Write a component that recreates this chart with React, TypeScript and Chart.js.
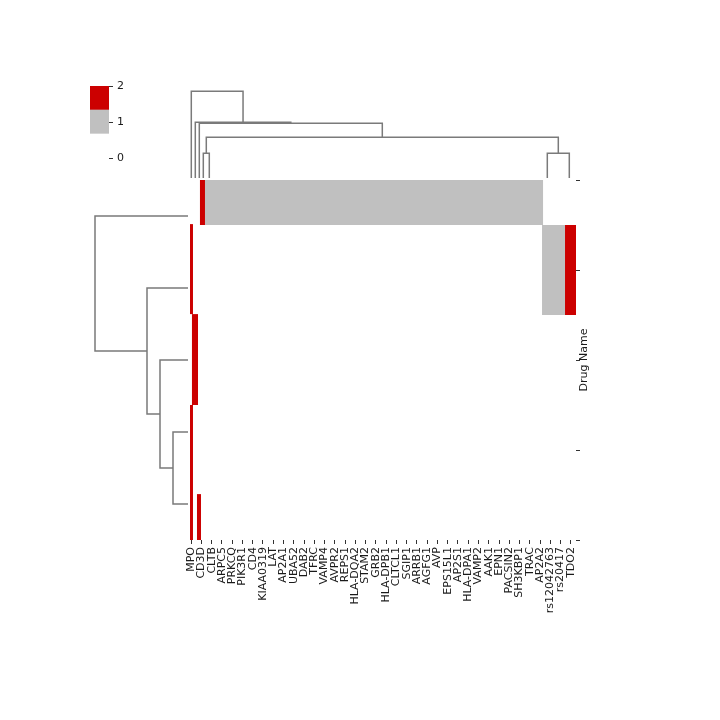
import React, { useEffect, useRef } from 'react';
import { Chart, registerables } from 'chart.js';

Chart.register(...registerables);
Chart.defaults.font.family = "'DejaVu Sans', sans-serif";

// ---- Heatmap axes ----
const columnLabels = [
  'MPO', 'CD3D', 'CLTB', 'ARPC5', 'PRKCQ', 'PIK3R1', 'CD4', 'KIAA0319', 'LAT', 'AP2A1',
  'UBA52', 'DAB2', 'TFRC', 'VAMP4', 'AVPR2', 'REPS1', 'HLA-DQA2', 'STAM2', 'GRB2', 'HLA-DPB1',
  'CLTCL1', 'SGIP1', 'ARRB1', 'AGFG1', 'AVP', 'EPS15L1', 'AP2S1', 'HLA-DPA1', 'VAMP2', 'AAK1',
  'EPN1', 'PACSIN2', 'SH3KBP1', 'TRAC', 'AP2A2', 'rs12042763', 'rs20417', 'TDO2',
];
const rowCount = 8;
const rowTicks = [0, 2, 4, 6, 8];
const rowTickLabels = ['', '', '', '', ''];
const rowAxisTitle = 'Drug Name';

// ---- Heatmap cells (column units / row units, value 0..2) ----
const cellColStart = [1.36, 1.85, 0.39, 34.69, 36.93, 0.58, 0.39, 1.07];
const cellColEnd = [1.85, 34.79, 0.68, 36.93, 38.0, 1.17, 0.68, 1.46];
const cellRowStart = [0, 0, 0.98, 1, 1, 2.98, 5, 6.98];
const cellRowEnd = [1, 1, 2.98, 3, 3, 5, 8, 8];
const cellValue = [2, 1, 2, 1, 2, 2, 2, 2];

// ---- Colour scale ----
const paletteColors = ['#ffffff', '#c0c0c0', '#cc0000'];
const colorBounds = [0, 2 / 3, 4 / 3, 2];
const colorTicks = [0, 1, 2];

// ---- Column dendrogram (scipy-style icoord / dcoord) ----
const colLinkX = [
  [1.686, 1.686, 2.27, 2.27],
  [35.204, 35.204, 37.348, 37.348],
  [1.978, 1.978, 36.276, 36.276],
  [1.296, 1.296, 19.127, 19.127],
  [0.906, 0.906, 10.21, 10.21],
  [0.516, 0.516, 5.558, 5.558],
];
const colLinkH = [
  [0, 24.7, 24.7, 0],
  [0, 24.7, 24.7, 0],
  [24.7, 40.7, 40.7, 24.7],
  [0, 54.7, 54.7, 40.7],
  [0, 55.7, 55.7, 54.7],
  [0, 86.7, 86.7, 55.7],
];
const colDendroMax = 95;

// ---- Row dendrogram ----
const rowLinkY = [
  [5.6, 5.6, 7.2, 7.2],
  [4.0, 4.0, 6.4, 6.4],
  [2.4, 2.4, 5.2, 5.2],
  [0.8, 0.8, 3.8, 3.8],
];
const rowLinkH = [
  [0, 15, 15, 0],
  [0, 28, 28, 15],
  [0, 41, 41, 28],
  [0, 93, 93, 41],
];
const rowDendroMax = 100;

const TEXT = '#1a1a1a';
const TICK = '#333333';
const DENDRO = '#7a7a7a';

const heatmapPlugin = {
  id: 'heatmapCells',
  beforeDatasetsDraw(chart: any) {
    const { ctx, chartArea, scales } = chart;
    ctx.save();
    ctx.beginPath();
    ctx.rect(chartArea.left, chartArea.top, chartArea.right - chartArea.left, chartArea.bottom - chartArea.top);
    ctx.clip();
    for (let i = 0; i < cellValue.length; i++) {
      const x0 = scales.x.getPixelForValue(cellColStart[i]);
      const x1 = scales.x.getPixelForValue(cellColEnd[i]);
      const y0 = scales.y.getPixelForValue(cellRowStart[i]);
      const y1 = scales.y.getPixelForValue(cellRowEnd[i]);
      let idx = 0;
      for (let b = 0; b < paletteColors.length; b++) {
        if (cellValue[i] >= colorBounds[b]) idx = b;
      }
      ctx.fillStyle = paletteColors[idx];
      ctx.fillRect(Math.min(x0, x1), Math.min(y0, y1), Math.abs(x1 - x0), Math.abs(y1 - y0));
    }
    ctx.restore();
  },
};

const rowTitlePlugin = {
  id: 'rowTitle',
  afterDraw(chart: any) {
    const { ctx, chartArea } = chart;
    ctx.save();
    ctx.translate(chartArea.right + 8, (chartArea.top + chartArea.bottom) / 2);
    ctx.rotate(-Math.PI / 2);
    ctx.textAlign = 'center';
    ctx.textBaseline = 'middle';
    ctx.fillStyle = TEXT;
    ctx.font = "11px 'DejaVu Sans', sans-serif";
    ctx.fillText(rowAxisTitle, 0, 0);
    ctx.restore();
  },
};

const baseOpts = {
  animation: false as const,
  responsive: false,
  maintainAspectRatio: false,
  events: [] as any[],
  plugins: { legend: { display: false }, tooltip: { enabled: false }, title: { display: false } },
};

export default function App() {
  const mainRef = useRef<HTMLCanvasElement>(null);
  const colRef = useRef<HTMLCanvasElement>(null);
  const rowRef = useRef<HTMLCanvasElement>(null);
  const cbarRef = useRef<HTMLCanvasElement>(null);

  useEffect(() => {
    const charts: Chart[] = [];

    charts.push(
      new Chart(mainRef.current as HTMLCanvasElement, {
        type: 'scatter',
        data: { datasets: [] },
        options: {
          ...baseOpts,
          layout: { padding: { left: 186, top: 180, right: 0, bottom: 0 } },
          scales: {
            x: {
              type: 'linear',
              position: 'bottom',
              min: 0,
              max: columnLabels.length,
              afterBuildTicks: (s: any) => {
                s.ticks = columnLabels.map((_, i) => ({ value: i + 0.5 }));
              },
              afterFit: (s: any) => {
                s.height = 180;
              },
              ticks: {
                autoSkip: false,
                maxRotation: 90,
                minRotation: 90,
                padding: 3,
                color: TEXT,
                font: { size: 11 },
                callback: (_v: any, i: number) => columnLabels[i],
              },
              grid: { drawOnChartArea: false, drawTicks: true, tickLength: 4, color: TICK, lineWidth: 1 },
              border: { display: false },
            },
            y: {
              type: 'linear',
              position: 'right',
              min: 0,
              max: rowCount,
              reverse: true,
              afterBuildTicks: (s: any) => {
                s.ticks = rowTicks.map((v) => ({ value: v }));
              },
              afterFit: (s: any) => {
                s.width = 144;
              },
              ticks: {
                color: TEXT,
                font: { size: 11 },
                callback: (_v: any, i: number) => rowTickLabels[i],
              },
              grid: { drawOnChartArea: false, drawTicks: true, tickLength: 4, color: TICK, lineWidth: 1 },
              border: { display: false },
            },
          },
        } as any,
        plugins: [heatmapPlugin, rowTitlePlugin],
      })
    );

    charts.push(
      new Chart(colRef.current as HTMLCanvasElement, {
        type: 'scatter',
        data: {
          datasets: colLinkX.map((xs, k) => ({
            data: xs.map((x, j) => ({ x, y: colLinkH[k][j] })),
            showLine: true,
            pointRadius: 0,
            borderColor: DENDRO,
            borderWidth: 1.5,
            tension: 0,
            clip: false,
          })),
        },
        options: {
          ...baseOpts,
          layout: { padding: { left: 186, right: 144, top: 178 - colDendroMax, bottom: 542 } },
          scales: {
            x: { type: 'linear', display: false, min: 0, max: columnLabels.length },
            y: { type: 'linear', display: false, min: 0, max: colDendroMax },
          },
        } as any,
      })
    );

    charts.push(
      new Chart(rowRef.current as HTMLCanvasElement, {
        type: 'scatter',
        data: {
          datasets: rowLinkY.map((ys, k) => ({
            data: ys.map((y, j) => ({ x: rowLinkH[k][j], y })),
            showLine: true,
            pointRadius: 0,
            borderColor: DENDRO,
            borderWidth: 1.5,
            tension: 0,
            clip: false,
          })),
        },
        options: {
          ...baseOpts,
          layout: { padding: { left: 188 - rowDendroMax, right: 720 - 188, top: 180, bottom: 180 } },
          scales: {
            x: { type: 'linear', display: false, min: 0, max: rowDendroMax, reverse: true },
            y: { type: 'linear', display: false, min: 0, max: rowCount, reverse: true },
          },
        } as any,
      })
    );

    charts.push(
      new Chart(cbarRef.current as HTMLCanvasElement, {
        type: 'bar',
        data: {
          labels: [''],
          datasets: paletteColors.map((c, i) => ({
            data: [[colorBounds[i], colorBounds[i + 1]]],
            backgroundColor: c,
            borderWidth: 0,
            grouped: false,
            barPercentage: 1,
            categoryPercentage: 1,
          })),
        },
        options: {
          ...baseOpts,
          layout: { padding: { left: 90, top: 86, right: 0, bottom: 562 } },
          scales: {
            x: { display: false },
            y: {
              type: 'linear',
              position: 'right',
              min: 0,
              max: 2,
              afterBuildTicks: (s: any) => {
                s.ticks = colorTicks.map((v) => ({ value: v }));
              },
              afterFit: (s: any) => {
                s.width = 611;
              },
              ticks: { color: TEXT, font: { size: 11 }, padding: 4 },
              grid: { drawOnChartArea: false, drawTicks: true, tickLength: 4, color: TICK, lineWidth: 1 },
              border: { display: false },
            },
          },
        } as any,
      })
    );

    return () => charts.forEach((c) => c.destroy());
  }, []);

  const cs: React.CSSProperties = { position: 'absolute', left: 0, top: 0, width: 720, height: 720 };
  return (
    <div style={{ position: 'fixed', left: 0, top: 0, width: 720, height: 720, background: '#ffffff' }}>
      <canvas ref={mainRef} width={720} height={720} style={cs} />
      <canvas ref={colRef} width={720} height={720} style={cs} />
      <canvas ref={rowRef} width={720} height={720} style={cs} />
      <canvas ref={cbarRef} width={720} height={720} style={cs} />
    </div>
  );
}
